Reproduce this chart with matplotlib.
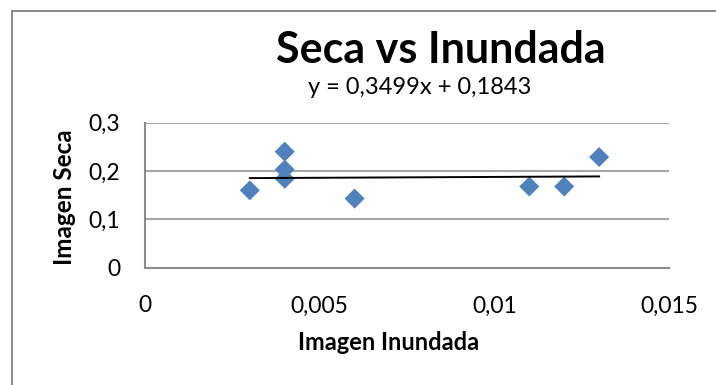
import matplotlib
matplotlib.use("Agg")
import matplotlib.pyplot as plt
from matplotlib.patches import Rectangle
from matplotlib.ticker import FixedLocator

# Data
imagen_inundada = [0.003, 0.004, 0.004, 0.004, 0.006, 0.011, 0.012, 0.013]
imagen_seca = [0.160, 0.240, 0.203, 0.184, 0.143, 0.168, 0.168, 0.229]
slope = 0.3499
intercept = 0.1843
x_ticks = [0, 0.005, 0.01, 0.015]
x_tick_labels = ["0", "0,005", "0,01", "0,015"]
y_ticks = [0, 0.1, 0.2, 0.3]
y_tick_labels = ["0", "0,1", "0,2", "0,3"]

plt.rcParams["font.family"] = ["Lato", "DejaVu Sans"]

W, H = 716, 385
fig = plt.figure(figsize=(W / 100, H / 100), dpi=100)
fig.patch.set_facecolor("white")

# chart frame (runs off right and bottom edges)
fig.add_artist(Rectangle((12 / W, -0.1), 1.2, 1.1 - 11 / H,
                         transform=fig.transFigure, fill=False,
                         edgecolor="#8c8c8c", linewidth=1.5))

left, right = 145 / W, 669 / W
bottom, top = 1 - 267.7 / H, 1 - 122.7 / H
ax = fig.add_axes([left, bottom, right - left, top - bottom])
ax.set_xlim(0, 0.015)
ax.set_ylim(0, 0.3)

grid_color = "#a6a6a6"
for yv in y_ticks[1:]:
    ax.axhline(yv, color=grid_color, linewidth=1.5, zorder=1)

for side in ("top", "right"):
    ax.spines[side].set_visible(False)
for side in ("left", "bottom"):
    ax.spines[side].set_color("#8c8c8c")
    ax.spines[side].set_linewidth(1.5)

ax.xaxis.set_major_locator(FixedLocator(x_ticks))
ax.yaxis.set_major_locator(FixedLocator(y_ticks))
ax.set_xticklabels(x_tick_labels)
ax.set_yticklabels(y_tick_labels)
ax.tick_params(axis="both", length=0, labelsize=16.5, colors="black")
ax.tick_params(axis="x", pad=20)
ax.tick_params(axis="y", pad=18)

ax.scatter(imagen_inundada, imagen_seca, marker="D", s=10.2 ** 2,
           color="#4f81bd", edgecolors="none", zorder=3)

x0, x1 = min(imagen_inundada), max(imagen_inundada)
ax.plot([x0, x1], [slope * x0 + intercept, slope * x1 + intercept],
        color="black", linewidth=1.4, zorder=4)

fig.text(441 / W, 1 - 50 / H, "Seca vs Inundada", fontsize=31,
         fontweight="bold", ha="center", va="center")
fig.text(420 / W, 1 - 88 / H,
         "y = {:.4f}x + {:.4f}".format(slope, intercept).replace(".", ","),
         fontsize=17, ha="center", va="center")
fig.text(389 / W, 1 - 342 / H, "Imagen Inundada", fontsize=17,
         fontweight="bold", ha="center", va="center")
fig.text(65 / W, 1 - 197.5 / H, "Imagen Seca", fontsize=17.5,
         fontweight="bold", ha="center", va="center", rotation=90)

fig.savefig("out.png", dpi=100, facecolor="white")
